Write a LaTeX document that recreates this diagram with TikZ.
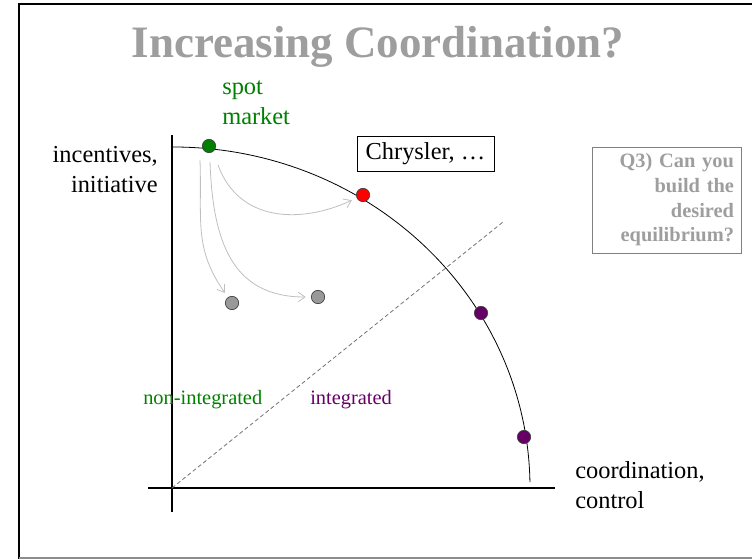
\documentclass[tikz,border=0pt]{standalone}
\usepackage{fontspec}
\setmainfont{Liberation Serif}
\usetikzlibrary{arrows.meta}

\definecolor{spotgreen}{RGB}{0,128,0}
\definecolor{intpurple}{RGB}{102,0,102}

\begin{document}
\begin{tikzpicture}[x=0.75pt,y=0.75pt,
    dot/.style={circle,draw=black!75,line width=0.5pt,inner sep=0pt,minimum size=10pt},
    flow/.style={draw=black!25,line width=0.6pt,->,>={Straight Barb[length=5pt,width=7pt]},shorten >=4pt},
    body/.style={font=\fontsize{18.3}{22.5}\selectfont,inner sep=0pt},
    small/.style={font=\fontsize{15.3}{18.5}\selectfont,inner sep=0pt}]
  \useasboundingbox (0,0) rectangle (752,-559);
  % ramik
  \draw[line width=1.5pt] (19,-559) -- (19,-4) -- (752,-4);
  \draw[black!45,line width=1pt] (19,-558) -- (752,-558);
  \node[anchor=base,text=black!38,inner sep=0pt,font=\fontsize{33.7}{40}\selectfont\bfseries] (title) at (378,-58) {Increasing Coordination?};
  % osi
  \coordinate (ytop) at (172,-135);
  \coordinate (ybot) at (172,-512);
  \coordinate (xl) at (148,-488);
  \coordinate (xr) at (555,-488);
  \coordinate (o) at (172,-488);
  \coordinate (dl) at (503,-222);
  \draw[line width=1.5pt] (ybot) -- (ytop);
  \draw[line width=1.5pt] (xl) -- (xr);
  \draw[black!55,line width=0.6pt,densely dashed] (o) -- (dl);
  % hranica
  \draw[line width=0.6pt] (173,-147) arc[start angle=90,end angle=1,x radius=357,y radius=341];
  \node[body,align=left,anchor=base west,text=spotgreen] (spot) at (222,-125) {spot\\market};
  \node[body,align=right,anchor=base east] (incent) at (158,-193) {incentives,\\initiative};
  \node[body,align=left,anchor=base west] (coord) at (575,-508) {coordination,\\control};
  \node[small,anchor=base west,text=spotgreen] (nonint) at (143,-404) {non-integrated};
  \node[small,anchor=base west,text=intpurple] (integ) at (310,-404) {integrated};
  \node[body,draw,line width=0.6pt,minimum width=102.75pt,minimum height=26.25pt] (chrysler) at (425.5,-153.5) {Chrysler, …};
  \node[small,draw=black!50,line width=0.6pt,text=black!38,font=\fontsize{15.3}{18.5}\selectfont\bfseries,
        align=right,text width=101.25pt,inner xsep=5.25pt,minimum height=79.5pt] (q3) at (666.5,-200)
        {Q3) Can you\\build the\\desired\\equilibrium?};
  % body
  \node[dot,fill=spotgreen] (gs) at (209,-146) {};
  \node[dot,fill=red] (rd) at (363,-195) {};
  \node[dot,fill=intpurple] (p1) at (481,-313) {};
  \node[dot,fill=intpurple] (p2) at (524,-437) {};
  \node[dot,fill=black!40] (g1) at (232,-303) {};
  \node[dot,fill=black!40] (g2) at (318,-297) {};
  \coordinate (a1) at (200,-160);
  \coordinate (a2) at (210,-162);
  \coordinate (a3) at (218,-165);
  \draw[flow] (a1) to[out=-88,in=125,looseness=1.1] (g1);
  \draw[flow] (a2) to[out=-88,in=180,looseness=1.2] (g2);
  \draw[flow] (a3) to[out=-70,in=205,looseness=1.1] (rd);
\end{tikzpicture}
\end{document}
